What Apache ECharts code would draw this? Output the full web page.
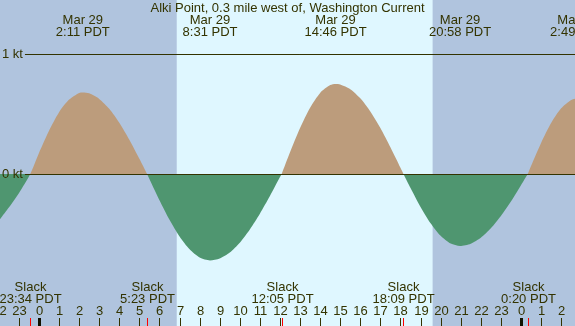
<!DOCTYPE html>
<html><head><meta charset="utf-8">
<script src="https://cdn.jsdelivr.net/npm/echarts@6/dist/echarts.min.js"></script>
<style>html,body{margin:0;padding:0;background:#dff7ff}#c{width:575px;height:326px}</style>
</head><body><div id="c"></div><script>
const chartTitle = 'Alki Point, 0.3 mile west of, Washington Current';
// hours from Mar 29 00:00 PDT, current in knots (flood +, ebb -)
const timeHours = [-2.0,-1.5,-1.0,-0.433,0,0.5,1,1.5,2,2.183,2.5,3,3.5,4,4.5,5,5.383,6,6.5,7,7.5,8,8.517,9,9.5,10,10.5,11,11.5,12,12.083,12.5,13,13.5,14,14.5,14.767,15,15.5,16,16.5,17,17.5,18,18.15,18.5,19,19.5,20,20.5,20.967,21.5,22,22.5,23,23.5,24,24.333,24.5,25,25.5,26,26.5,26.817,27];
const currentKt = [-0.39,-0.28,-0.16,0,0.175,0.36,0.515,0.62,0.676,0.68,0.672,0.626,0.543,0.427,0.286,0.127,0,-0.219,-0.382,-0.521,-0.628,-0.696,-0.72,-0.704,-0.654,-0.572,-0.462,-0.331,-0.184,-0.026,0,0.181,0.383,0.553,0.676,0.741,0.75,0.746,0.707,0.631,0.521,0.383,0.223,0.052,0,-0.116,-0.274,-0.41,-0.515,-0.58,-0.6,-0.581,-0.532,-0.453,-0.35,-0.229,-0.093,0,0.066,0.258,0.424,0.547,0.617,0.63,0.628];
const peakHours = [2.183,8.517,14.767,20.967,26.817];
const peakDates = ['Mar 29','Mar 29','Mar 29','Mar 29','Mar 30'];
const peakLabels = ['2:11 PDT','8:31 PDT','14:46 PDT','20:58 PDT','2:49 PDT'];
const slackHours = [-0.433,5.383,12.083,18.15,24.333];
const slackLabels = ['23:34 PDT','5:23 PDT','12:05 PDT','18:09 PDT','0:20 PDT'];
const hourTicks = [-2,-1,0,1,2,3,4,5,6,7,8,9,10,11,12,13,14,15,16,17,18,19,20,21,22,23,24,25,26];
const hourLabels = ['22','23','0','1','2','3','4','5','6','7','8','9','10','11','12','13','14','15','16','17','18','19','20','21','22','23','0','1','2'];
const midnightHours = [0,24];
const nightRanges = [[-3,6.86],[19.6,28]];
const levelValues = [0,1];
const levelLabels = ['0 kt','1 kt'];
const xMin = -1.94, xMax = 26.69, yMin = -1.2667, yMax = 1.45;

const FONT = 'Liberation Sans, Arial, sans-serif';
const INK = '#333300';
const FLOOD = '#bc9c7c', EBB = '#4f9670';
const mctx = document.createElement('canvas').getContext('2d');
mctx.font = '13px Liberation Sans';

const chart = echarts.init(document.getElementById('c'));
const H = 326;
chart.setOption({
  backgroundColor: '#dff7ff',
  animation: false,
  title: {text: chartTitle, left: 'center', top: -3, textStyle: {fontFamily: FONT, fontSize: 13, fontWeight: 'normal', color: INK}},
  grid: {left: 0, right: 0, top: 0, bottom: 0},
  xAxis: {type: 'value', min: xMin, max: xMax, show: false},
  yAxis: {type: 'value', min: yMin, max: yMax, show: false},
  series: [
    {type: 'custom', z: 1, silent: true, clip: true, data: nightRanges,
      renderItem: function (p, api) {
        const a = api.coord([api.value(0), yMax]), b = api.coord([api.value(1), yMin]);
        return {type: 'rect', shape: {x: a[0], y: a[1], width: b[0]-a[0], height: b[1]-a[1]}, style: {fill: '#b0c4de'}};
      }},
    {type: 'line', z: 2, silent: true, smooth: 0.25, symbol: 'none',
      data: timeHours.map((t, i) => [t, currentKt[i]]),
      lineStyle: {width: 0, opacity: 0}, areaStyle: {opacity: 1, color: FLOOD}},
    {type: 'custom', z: 3, silent: true, data: levelValues.map((v, i) => [xMin, v, i]),
      renderItem: function (p, api) {
        const pt = api.coord([xMin, api.value(1)]);
        const y = Math.round(pt[1]) + 0.5;
        const lab = levelLabels[api.value(2)];
        const w = mctx.measureText(lab).width;
        return {type: 'group', children: [
          {type: 'text', style: {x: 2, y: y, text: lab, fill: INK, font: '13px ' + FONT, textAlign: 'left', textVerticalAlign: 'middle'}},
          {type: 'line', shape: {x1: 2 + w + 2, y1: y, x2: 575, y2: y}, style: {stroke: INK, lineWidth: 1}}
        ]};
      }},
    {type: 'custom', z: 4, silent: true, data: peakHours.map((h, i) => [h, 0, i]),
      renderItem: function (p, api) {
        const x = api.coord([api.value(0), 0])[0];
        const i = api.value(2);
        return {type: 'group', children: [
          {type: 'text', style: {x: x, y: 20, text: peakDates[i], fill: INK, font: '13px ' + FONT, textAlign: 'center', textVerticalAlign: 'middle'}},
          {type: 'text', style: {x: x, y: 32, text: peakLabels[i], fill: INK, font: '13px ' + FONT, textAlign: 'center', textVerticalAlign: 'middle'}}
        ]};
      }},
    {type: 'custom', z: 4, silent: true, data: slackHours.map((h, i) => [h, 0, i]),
      renderItem: function (p, api) {
        const x = Math.round(api.coord([api.value(0), 0])[0]) + 0.5;
        const i = api.value(2);
        return {type: 'group', children: [
          {type: 'text', style: {x: x, y: 287, text: 'Slack', fill: INK, font: '13px ' + FONT, textAlign: 'center', textVerticalAlign: 'middle'}},
          {type: 'text', style: {x: x, y: 299, text: slackLabels[i], fill: INK, font: '13px ' + FONT, textAlign: 'center', textVerticalAlign: 'middle'}},
          {type: 'line', shape: {x1: x, y1: H - 8, x2: x, y2: H}, style: {stroke: '#ff0000', lineWidth: 1}}
        ]};
      }},
    {type: 'custom', z: 4, silent: true, data: hourTicks.map((h, i) => [h, 0, i]),
      renderItem: function (p, api) {
        const x = Math.round(api.coord([api.value(0), 0])[0]) + 0.5;
        const i = api.value(2);
        const mid = midnightHours.indexOf(api.value(0)) >= 0;
        return {type: 'group', children: [
          {type: 'text', style: {x: x, y: 311, text: hourLabels[i], fill: INK, font: '13px ' + FONT, textAlign: 'center', textVerticalAlign: 'middle'}},
          {type: 'line', shape: {x1: x, y1: H - 8, x2: x, y2: H}, style: {stroke: mid ? '#111100' : INK, lineWidth: mid ? 3 : 1}}
        ]};
      }}
  ]
});
// split the area colour at the 0 kt level, using the chart's own y scale
const zeroY = chart.convertToPixel({gridIndex: 0}, [0, 0])[1];
const f = zeroY / H;
chart.setOption({series: [{}, {areaStyle: {opacity: 1, color: new echarts.graphic.LinearGradient(0, 0, 0, H, [
  {offset: 0, color: FLOOD}, {offset: f, color: FLOOD}, {offset: f, color: EBB}, {offset: 1, color: EBB}], true)}}]});
</script></body></html>
